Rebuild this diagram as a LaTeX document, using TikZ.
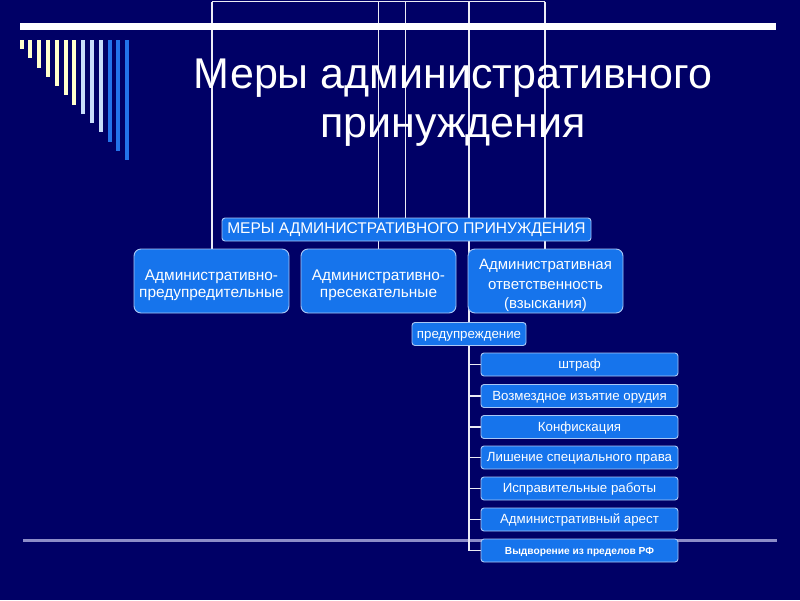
\documentclass[tikz,border=0pt]{standalone}
\usepackage{fontspec}
\setmainfont{Liberation Sans}
\definecolor{bg}{RGB}{0,0,102}
\definecolor{boxfill}{RGB}{22,116,236}
\definecolor{boxline}{RGB}{170,200,245}
\definecolor{cream}{RGB}{255,255,204}
\definecolor{lblue}{RGB}{200,220,250}
\definecolor{sblue}{RGB}{35,115,235}
\definecolor{grayline}{RGB}{140,140,200}
\definecolor{conn}{RGB}{235,235,245}
\tikzset{
  bluebox/.style={draw=boxline, line width=0.9pt, fill=boxfill, text=white, inner sep=0pt},
  bigbox/.style={bluebox, rounded corners=7pt, minimum width=155pt, minimum height=64pt},
  bigtext/.style={text=white, inner sep=0pt, align=center, font=\fontsize{15.4}{17}\selectfont},
  smallbox/.style={bluebox, rounded corners=3pt, minimum height=23pt, text height=0.95em, text depth=0.15em},
  listbox/.style={smallbox, minimum width=197pt, font=\fontsize{13.3}{15}\selectfont},
  connline/.style={draw=conn, line width=1.8pt},
}
\begin{document}
\begin{tikzpicture}[x=1pt,y=-1pt]
\fill[bg] (0,0) rectangle (800,600);
\useasboundingbox (0,0) rectangle (800,600);
% bottom gray rule
\draw[grayline, line width=2.5pt] (23,540.5) -- (777,540.5);
% top connector frame
\coordinate (t1) at (212,1.5);
\coordinate (t2) at (378.5,1.5);
\coordinate (t3) at (405.5,1.5);
\coordinate (t4) at (469,1.5);
\coordinate (t5) at (545,1.5);
\coordinate (bot) at (469,550.5);
\draw[connline] (t1) -- (t5);
\draw[connline] (t1) -- (212,249);
\draw[connline] (t2) -- (378.5,249);
\draw[connline] (t3) -- (405.5,219);
\draw[connline] (t5) -- (545,249);
\draw[connline] (t4) -- (bot);
\foreach \yy in {364.5,396,427,457.5,488.5,519.5,550.5}{
  \draw[connline] (468.2,\yy) -- (482,\yy);
}
% nodes
\node[smallbox, minimum width=369pt, font=\fontsize{15.5}{17}\selectfont] (mery) at (406.5,229.5) {МЕРЫ АДМИНИСТРАТИВНОГО ПРИНУЖДЕНИЯ};
\node[bigbox] (b1) at (211.5,281) {};
\node[bigtext] (b1t) at (211.5,285) {Административно-\\предупредительные};
\node[bigbox] (b2) at (378.5,281) {};
\node[bigtext] (b2t) at (378.5,285) {Административно-\\пресекательные};
\node[bigbox] (b3) at (545.5,281) {};
\node[bigtext, font=\fontsize{15}{19.5}\selectfont] (b3t) at (545.5,285.5) {Административная\\ответственность\\(взыскания)};
\node[smallbox, minimum width=114pt, font=\fontsize{13.3}{14}\selectfont] (warn) at (469,334) {предупреждение};
\node[listbox] (l1) at (579.5,364.5) {штраф};
\node[listbox] (l2) at (579.5,396) {Возмездное изъятие орудия};
\node[listbox] (l3) at (579.5,427) {Конфискация};
\node[listbox] (l4) at (579.5,457.5) {Лишение специального права};
\node[listbox] (l5) at (579.5,488.5) {Исправительные работы};
\node[listbox] (l6) at (579.5,519.5) {Административный арест};
\node[listbox, font=\fontsize{10.2}{12}\bfseries\selectfont] (l7) at (579.5,550.5) {Выдворение из пределов РФ};
% top white bar
\fill[white] (20,23) rectangle (776,30);
% stripes
\foreach \i in {0,...,12}{
  \pgfmathsetmacro{\xx}{21.7+8.78*\i}
  \pgfmathsetmacro{\yb}{49+9.25*\i}
  \ifnum\i<7 \def\sc{cream}\else\ifnum\i<10 \def\sc{lblue}\else\def\sc{sblue}\fi\fi
  \fill[\sc] (\xx-2,40) rectangle (\xx+2,\yb);
}
% title
\node[text=white, font=\fontsize{43}{49}\selectfont, anchor=base] (title1) at (453,88) {Меры административного};
\node[text=white, font=\fontsize{43}{49}\selectfont, anchor=base] (title2) at (453,137) {принуждения};
\end{tikzpicture}
\end{document}
